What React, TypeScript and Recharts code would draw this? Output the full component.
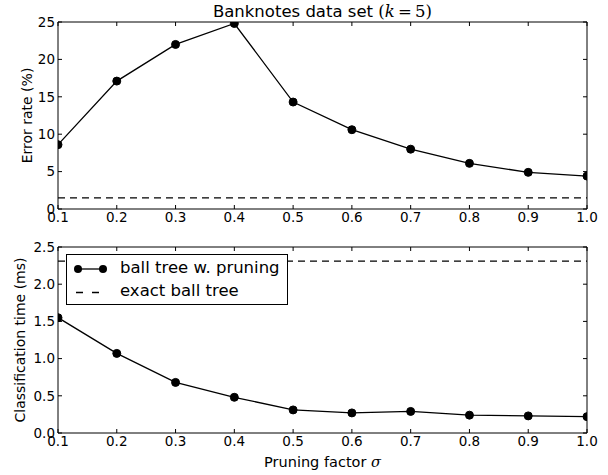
import React from 'react';
import { LineChart, Line, XAxis, YAxis, ReferenceLine, Legend } from 'recharts';

const pruningFactors = [0.1, 0.2, 0.3, 0.4, 0.5, 0.6, 0.7, 0.8, 0.9, 1.0];
const errorRates = [8.6, 17.1, 22.0, 24.8, 14.3, 10.6, 8.0, 6.1, 4.9, 4.4];
const classificationTimes = [1.55, 1.07, 0.68, 0.48, 0.31, 0.27, 0.29, 0.24, 0.23, 0.22];
const exactErrorRate = 1.5;
const exactClassificationTime = 2.31;
const xTicks = [0.1, 0.2, 0.3, 0.4, 0.5, 0.6, 0.7, 0.8, 0.9, 1.0];
const errorTicks = [0, 5, 10, 15, 20, 25];
const timeTicks = [0, 0.5, 1.0, 1.5, 2.0, 2.5];

const errorData = pruningFactors.map((x, i) => ({ x, y: errorRates[i] }));
const timeData = pruningFactors.map((x, i) => ({ x, y: classificationTimes[i] }));

const FONT = '"DejaVu Sans", sans-serif';
const SERIF = '"DejaVu Serif", serif';
const tickStyle = { fill: '#000', fontSize: 13.5, fontFamily: FONT };
const emptyTick = () => <g />;

const Dot = (props: any) => {
  const { cx, cy } = props;
  if (cx == null || cy == null) return <g />;
  return <circle cx={cx} cy={cy} r={4} fill="#000" stroke="#000" />;
};

const makeYLabel = (text: string, bx: number) => (props: any) => {
  const vb = props.viewBox || {};
  const cy = vb.y + vb.height / 2;
  return (
    <text x={bx} y={cy} transform={`rotate(-90 ${bx} ${cy})`} textAnchor="middle" fontSize={14} fontFamily={FONT} fill="#000">
      {text}
    </text>
  );
};

const TitleLabel = (props: any) => {
  const vb = props.viewBox || {};
  const cx = vb.x + vb.width / 2;
  return (
    <text x={cx} y={17} textAnchor="middle" fontSize={16.5} fontFamily={FONT} fill="#000">
      Banknotes data set{' '}
      <tspan fontFamily={SERIF}>(</tspan>
      <tspan fontFamily={SERIF} fontStyle="italic">k</tspan>
      <tspan fontFamily={SERIF}>{'\u2009=\u20095)'}</tspan>
    </text>
  );
};

const XLabel = (props: any) => {
  const vb = props.viewBox || {};
  const cx = vb.x + vb.width / 2;
  return (
    <text x={cx} y={vb.y + 34} textAnchor="middle" fontSize={14.5} fontFamily={FONT} fill="#000">
      Pruning factor <tspan fontFamily={SERIF} fontStyle="italic">σ</tspan>
    </text>
  );
};

const LegendBox = () => (
  <div
    style={{
      width: 222,
      height: 51,
      border: '1px solid #000',
      boxSizing: 'border-box',
      background: '#fff',
      position: 'relative',
      fontFamily: FONT,
      fontSize: 16.5,
      color: '#000',
    }}
  >
    <svg width={50} height={51} style={{ position: 'absolute', left: 0, top: -1 }}>
      <line x1={11} y1={15} x2={36} y2={15} stroke="#000" strokeWidth={1.3} />
      <circle cx={11} cy={15} r={4} fill="#000" />
      <circle cx={36} cy={15} r={4} fill="#000" />
      <line x1={9} y1={38.5} x2={35} y2={38.5} stroke="#000" strokeWidth={1.3} strokeDasharray="7 9" />
    </svg>
    <div style={{ position: 'absolute', left: 53, top: 3, lineHeight: '20px', whiteSpace: 'nowrap' }}>ball tree w. pruning</div>
    <div style={{ position: 'absolute', left: 53, top: 26, lineHeight: '20px', whiteSpace: 'nowrap' }}>exact ball tree</div>
  </div>
);

export default function App() {
  return (
    <div style={{ position: 'absolute', left: 0, top: 0, width: 608, height: 475, background: '#fff', fontFamily: FONT }}>
      <LineChart width={608} height={232} data={errorData} margin={{ top: 0, right: 0, bottom: 0, left: 0 }}>
        <XAxis
          dataKey="x"
          type="number"
          domain={[0.1, 1.0]}
          ticks={xTicks}
          allowDataOverflow
          tickSize={-4}
          tickMargin={7}
          height={23}
          tick={tickStyle}
          tickFormatter={(v: number) => v.toFixed(1)}
          axisLine={{ stroke: '#000' }}
          tickLine={{ stroke: '#000' }}
        />
        <XAxis
          xAxisId="top"
          orientation="top"
          dataKey="x"
          type="number"
          domain={[0.1, 1.0]}
          ticks={xTicks}
          allowDataOverflow
          tickSize={-4}
          height={22}
          tick={emptyTick}
          axisLine={{ stroke: '#000' }}
          tickLine={{ stroke: '#000' }}
          label={{ content: TitleLabel }}
        />
        <YAxis
          type="number"
          domain={[0, 25]}
          ticks={errorTicks}
          allowDataOverflow
          width={58}
          tickSize={-4}
          tickMargin={7}
          tick={tickStyle}
          axisLine={{ stroke: '#000' }}
          tickLine={{ stroke: '#000' }}
          label={{ content: makeYLabel('Error rate (%)', 31.5) }}
        />
        <YAxis
          yAxisId="right"
          orientation="right"
          type="number"
          domain={[0, 25]}
          ticks={errorTicks}
          allowDataOverflow
          width={21}
          tickSize={-4}
          tick={emptyTick}
          axisLine={{ stroke: '#000' }}
          tickLine={{ stroke: '#000' }}
        />
        <ReferenceLine y={exactErrorRate} stroke="#000" strokeWidth={1.2} strokeDasharray="7 5" />
        <Line
          dataKey="y"
          stroke="#000"
          strokeWidth={1.3}
          dot={<Dot />}
          activeDot={false}
          isAnimationActive={false}
          type="linear"
        />
      </LineChart>
      <LineChart width={608} height={243} data={timeData} margin={{ top: 0, right: 0, bottom: 0, left: 0 }}>
        <XAxis
          dataKey="x"
          type="number"
          domain={[0.1, 1.0]}
          ticks={xTicks}
          allowDataOverflow
          tickSize={-4}
          tickMargin={7}
          height={42}
          tick={tickStyle}
          tickFormatter={(v: number) => v.toFixed(1)}
          axisLine={{ stroke: '#000' }}
          tickLine={{ stroke: '#000' }}
          label={{ content: XLabel }}
        />
        <XAxis
          xAxisId="top"
          orientation="top"
          dataKey="x"
          type="number"
          domain={[0.1, 1.0]}
          ticks={xTicks}
          allowDataOverflow
          tickSize={-4}
          height={15}
          tick={emptyTick}
          axisLine={{ stroke: '#000' }}
          tickLine={{ stroke: '#000' }}
        />
        <YAxis
          type="number"
          domain={[0, 2.5]}
          ticks={timeTicks}
          allowDataOverflow
          width={58}
          tickSize={-4}
          tickMargin={7}
          tick={tickStyle}
          tickFormatter={(v: number) => v.toFixed(1)}
          axisLine={{ stroke: '#000' }}
          tickLine={{ stroke: '#000' }}
          label={{ content: makeYLabel('Classification time (ms)', 25) }}
        />
        <YAxis
          yAxisId="right"
          orientation="right"
          type="number"
          domain={[0, 2.5]}
          ticks={timeTicks}
          allowDataOverflow
          width={21}
          tickSize={-4}
          tick={emptyTick}
          axisLine={{ stroke: '#000' }}
          tickLine={{ stroke: '#000' }}
        />
        <ReferenceLine y={exactClassificationTime} stroke="#000" strokeWidth={1.2} strokeDasharray="7 5" />
        <Line
          dataKey="y"
          stroke="#000"
          strokeWidth={1.3}
          dot={<Dot />}
          activeDot={false}
          isAnimationActive={false}
          type="linear"
        />
        <Legend
          layout="vertical"
          align="center"
          verticalAlign="middle"
          content={() => <LegendBox />}
          wrapperStyle={{ left: 66, top: 22, width: 222, height: 51 }}
        />
      </LineChart>
    </div>
  );
}
